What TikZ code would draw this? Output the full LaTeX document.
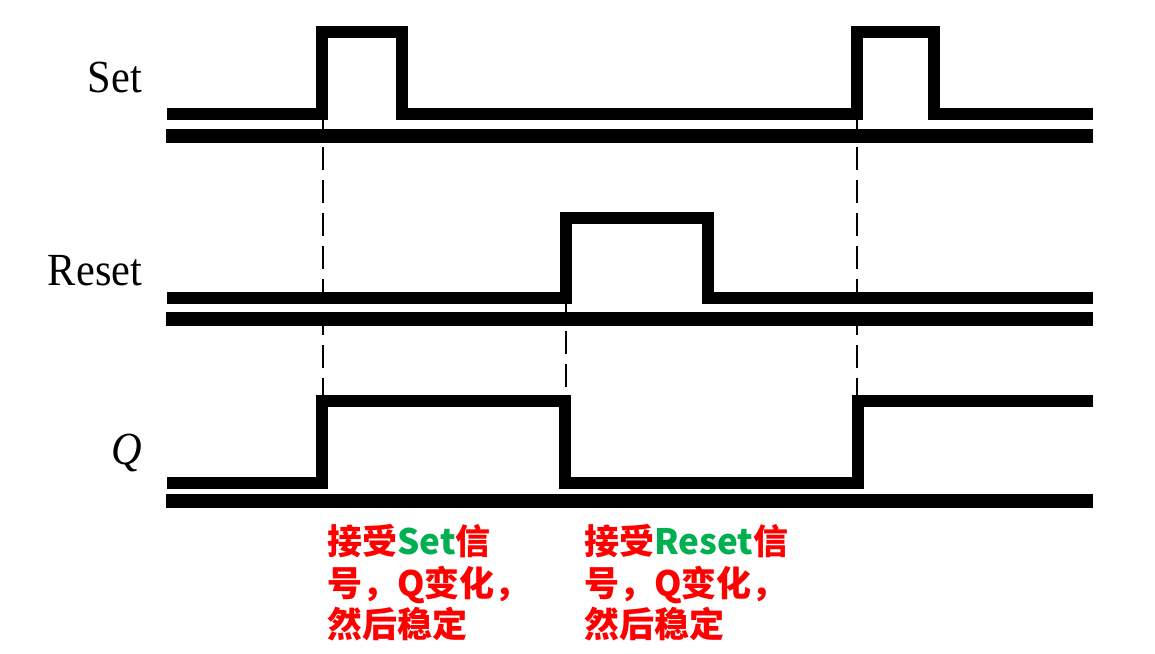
\documentclass[tikz,border=0pt]{standalone}
\usepackage{fontspec}
\setmainfont{Liberation Serif}
\newfontfamily\cjk{Noto Sans CJK SC}
\definecolor{tred}{HTML}{FF0000}
\definecolor{tgreen}{HTML}{00B050}
\begin{document}
\begin{tikzpicture}[x=1pt,y=-1pt,
  sig/.style={line width=12pt,line join=miter,line cap=butt},
  baseln/.style={line width=14pt,line cap=butt},
  guide/.style={line width=2.6pt,dash pattern=on 23pt off 10pt},
  siglabel/.style={font=\fontsize{46}{50}\selectfont,xscale=0.92,inner sep=0pt},
  note/.style={font=\cjk\bfseries\fontsize{35}{41}\selectfont,text=tred,anchor=base west,inner sep=0pt}]
\useasboundingbox (0,0) rectangle (1155,653);
% guide lines
\draw[guide] (323,114) -- (323,401);
\draw[guide] (566,298) -- (566,401);
\draw[guide] (857,114) -- (857,401);
% Set
\draw[sig] (167,114) -- (322,114) -- (322,32) -- (402,32) -- (402,114) -- (857,114) -- (857,32) -- (934,32) -- (934,114) -- (1093,114);
\draw[baseln] (166,136) -- (1093,136);
% Reset
\draw[sig] (167,298) -- (566,298) -- (566,218) -- (708,218) -- (708,298) -- (1093,298);
\draw[baseln] (166,319) -- (1093,319);
% Q
\draw[sig] (167,483) -- (322,483) -- (322,401) -- (565,401) -- (565,483) -- (858,483) -- (858,401) -- (1093,401);
\draw[baseln] (166,501) -- (1093,501);
% labels
\node[siglabel] (lset) at (115,77) {Set};
\node[siglabel] (lreset) at (95,271) {Reset};
\node[siglabel] (lq) at (127,453) {\itshape Q};
% notes
\node[note] (n1a) at (327,554) {接受\textcolor{tgreen}{Set}信};
\node[note] (n1b) at (327,596) {号，Q变化，};
\node[note] (n1c) at (327,637) {然后稳定};
\node[note] (n2a) at (584,554) {接受\textcolor{tgreen}{Reset}信};
\node[note] (n2b) at (584,596) {号，Q变化，};
\node[note] (n2c) at (584,637) {然后稳定};
\end{tikzpicture}
\end{document}
